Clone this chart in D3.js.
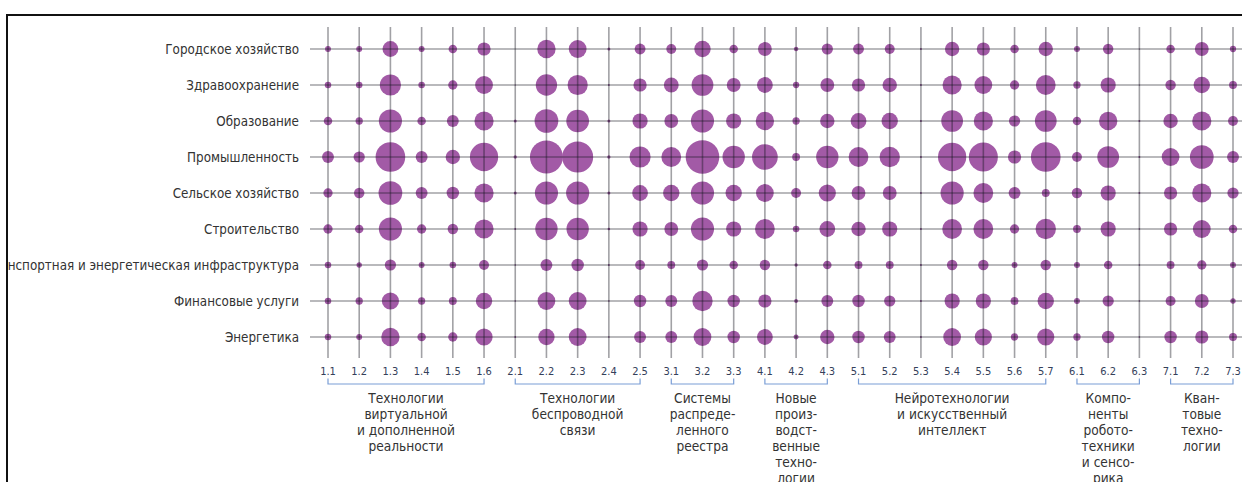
<!DOCTYPE html>
<html><head><meta charset="utf-8">
<script src="https://cdn.jsdelivr.net/npm/d3@7"></script>
<style>
html,body{margin:0;padding:0;background:#fff;}
svg{display:block;}
text{font-family:'Liberation Sans Narrow','DejaVu Sans Condensed','Noto Sans',sans-serif;}
</style></head>
<body>
<script>
// Industries (rows)
const industries = ["Городское хозяйство","Здравоохранение","Образование","Промышленность","Сельское хозяйство","Строительство","Транспортная и энергетическая инфраструктура","Финансовые услуги","Энергетика"];
// Technology sub-codes (columns)
const techCodes = ["1.1","1.2","1.3","1.4","1.5","1.6","2.1","2.2","2.3","2.4","2.5","3.1","3.2","3.3","4.1","4.2","4.3","5.1","5.2","5.3","5.4","5.5","5.6","5.7","6.1","6.2","6.3","7.1","7.2","7.3"];
// Technology groups
const groupLabels = [
  ["Технологии","виртуальной","и дополненной","реальности"],
  ["Технологии","беспроводной","связи"],
  ["Системы","распреде-","ленного","реестра"],
  ["Новые","произ-","водст-","венные","техно-","логии"],
  ["Нейротехнологии","и искусственный","интеллект"],
  ["Компо-","ненты","робото-","техники","и сенсо-","рика"],
  ["Кван-","товые","техно-","логии"]
];
const groupFirst = ["1.1","2.1","3.1","4.1","5.1","6.1","7.1"];
const groupLast  = ["1.6","2.5","3.3","4.3","5.7","6.3","7.3"];

// Relevance scores (0–100), one array per industry, in techCodes order
const vCity     = [3.1,3.1,22.1,3.1,6.4,15.5, 0,29.9,28,0.8,10.5, 8.7,23.8,6.4, 17,1.8,11.2, 10.5,8.7,0.3,18.4,15.5,6.4,18.4, 3.1,9.7,0.1, 6.4,17,3.5];
const vHealth   = [3.8,3.8,39.6,3.8,7.6,28, 0.1,40.4,36,0.3,15.5, 19.5,41.9,17, 22.1,3.5,17, 15.5,18.4,0.3,32.6,28,7.6,34.6, 4.7,20.5,0.1, 9.7,23.8,5.5];
const vEdu      = [6.4,4.7,47.4,6.4,12.5,32.6, 0.8,49.8,45.8,0.8,20.5, 17,47.4,20.5, 29.9,4.7,18.4, 22.1,23.8,0.3,41.9,32.6,11.2,41.9, 6.4,29.9,0.3, 18.4,32.6,8.7];
const vIndustry = [12.5,11.2,77.9,12.5,18.4,70.8, 1,96.5,85.3,1,39.6, 34.6,100,44.2, 58.5,5.5,44.2, 34.6,36.7,0.3,70.8,74.8,15.5,77.9, 8.7,41.9,0.3, 28,49.8,12.5];
const vAgri     = [7.6,9.7,49.8,12.5,13.7,32.6, 0.8,47.4,47.4,0.8,22.1, 23.8,47.4,23.8, 28,8.7,26.2, 17,17,0.3,47.4,34.6,12.5,5.5, 9.7,20.5,0.3, 15.5,32.6,11.2];
const vBuild    = [7.6,6.4,47.4,7.6,9.7,32.6, 0.3,44.2,44.2,0.6,20.5, 17,47.4,20.5, 34.6,3.8,22.1, 18.4,20.5,0.3,34.6,34.6,7.6,36.7, 5.5,20.5,0.2, 15.5,28,6.4];
const vTransport= [3.8,2.5,11.2,3.1,3.8,8.7, 0.2,12.5,13.7,0.3,8.7, 5.5,11.2,6.4, 9.7,1,6.4, 5.5,5.5,0.3,9.7,9.7,3.1,9.7, 3.1,6.4,0.2, 5.5,7.6,3.1];
const vFinance  = [3.8,4.7,26.2,4.7,5.5,23.8, 0.2,28,28,0.2,13.7, 12.5,36.7,13.7, 15.5,1.4,12.5, 13.7,11.2,0.3,20.5,20.5,5.5,23.8, 3.1,11.2,0.2, 8.7,17,2.5];
const vEnergy   = [3.8,3.1,29.9,6.4,7.6,26.2, 0.3,23.8,28,0.2,12.5, 12.5,28,13.7, 22.1,2.2,18.4, 13.7,12.5,0.3,28,26.2,4.7,26.2, 4.7,13.7,0.2, 13.7,15.5,5.5];
const valueRows = [vCity,vHealth,vEdu,vIndustry,vAgri,vBuild,vTransport,vFinance,vEnergy];

const W = 1242, H = 482;
const svg = d3.select("body").append("svg").attr("width", W).attr("height", H);

svg.append("defs").append("clipPath").attr("id","frameClip")
  .append("rect").attr("x",8).attr("y",16).attr("width",W).attr("height",H);

const g = svg.append("g").attr("clip-path","url(#frameClip)");

const x = d3.scalePoint().domain(techCodes).range([328, 1233]);
const y = d3.scalePoint().domain(industries).range([49, 337]);
const r = d3.scaleSqrt().domain([0, 100]).range([0, 16.8]);

const cells = [];
valueRows.forEach((arr, i) => arr.forEach((v, j) => cells.push({row: industries[i], col: techCodes[j], v})));

// bubbles
g.append("g").selectAll("circle").data(cells).join("circle")
  .attr("cx", d => x(d.col)).attr("cy", d => y(d.row))
  .attr("r", d => r(d.v))
  .attr("fill", "#a25aa6");

// grid on top
const grid = g.append("g").attr("stroke","rgba(20,20,30,0.4)").attr("stroke-width",1.6);
grid.selectAll("line.v").data(techCodes).join("line").attr("class","v")
  .attr("x1", d => x(d)).attr("x2", d => x(d)).attr("y1", 27).attr("y2", 358);
grid.selectAll("line.h").data(industries).join("line").attr("class","h")
  .attr("x1", 310).attr("x2", W).attr("y1", d => y(d)).attr("y2", d => y(d));

// row labels
g.append("g").selectAll("text").data(industries).join("text")
  .attr("x", 299).attr("y", d => y(d)).attr("dy","0.35em")
  .attr("text-anchor","end").attr("font-size",13.3).attr("fill","#333")
  .text(d => d);

// column tick labels
g.append("g").selectAll("text").data(techCodes).join("text")
  .attr("x", d => x(d)).attr("y", 371).attr("dy","0.35em")
  .attr("text-anchor","middle").attr("font-size",11).attr("fill","#34405a")
  .text(d => d);

// group brackets
const br = g.append("g").attr("fill","none").attr("stroke","#7a9ed6").attr("stroke-width",1.2);
groupFirst.forEach((f, i) => {
  const x0 = x(f), x1 = x(groupLast[i]);
  br.append("path").attr("d", `M${x0},378.5V384H${x1}V378.5`);
});

// group labels
groupLabels.forEach((lines, i) => {
  const cx = (x(groupFirst[i]) + x(groupLast[i])) / 2;
  const t = g.append("text").attr("text-anchor","middle").attr("font-size",13.6).attr("fill","#333");
  lines.forEach((ln, k) => {
    t.append("tspan").attr("x", cx).attr("y", 402.5 + k*16).text(ln);
  });
});

// frame
svg.append("path").attr("d", `M7,${H}V15H${W}`).attr("fill","none").attr("stroke","#111").attr("stroke-width",2);
</script>
</body></html>
